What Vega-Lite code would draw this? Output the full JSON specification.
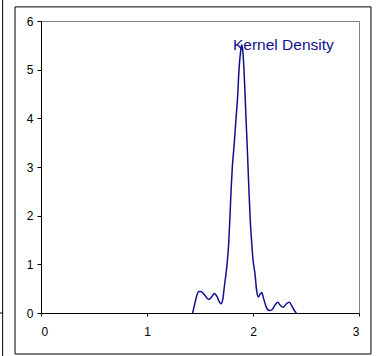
{
  "$schema": "https://vega.github.io/schema/vega-lite/v6.json",
  "width": 318,
  "height": 292,
  "autosize": {"type": "none"},
  "padding": {"left": 41, "top": 21, "right": 20, "bottom": 43},
  "background": "white",
  "config": {
    "view": {"stroke": "#808080", "strokeWidth": 1},
    "font": "Liberation Sans"
  },
  "datasets": {
    "density": [
      {"x": 1.43, "y": 0}, {"x": 1.45, "y": 0.18}, {"x": 1.47, "y": 0.36}, {"x": 1.49, "y": 0.44},
      {"x": 1.51, "y": 0.44}, {"x": 1.54, "y": 0.38}, {"x": 1.58, "y": 0.28}, {"x": 1.61, "y": 0.33},
      {"x": 1.635, "y": 0.40}, {"x": 1.66, "y": 0.34}, {"x": 1.68, "y": 0.24}, {"x": 1.698, "y": 0.19},
      {"x": 1.715, "y": 0.28}, {"x": 1.73, "y": 0.55}, {"x": 1.745, "y": 0.8}, {"x": 1.755, "y": 1.0},
      {"x": 1.77, "y": 1.4}, {"x": 1.783, "y": 2.0}, {"x": 1.795, "y": 2.6}, {"x": 1.805, "y": 3.0},
      {"x": 1.822, "y": 3.45}, {"x": 1.84, "y": 4.0}, {"x": 1.855, "y": 4.45}, {"x": 1.868, "y": 5.0},
      {"x": 1.882, "y": 5.35}, {"x": 1.893, "y": 5.51}, {"x": 1.905, "y": 5.35}, {"x": 1.915, "y": 5.0},
      {"x": 1.925, "y": 4.5}, {"x": 1.934, "y": 4.0}, {"x": 1.944, "y": 3.5}, {"x": 1.953, "y": 3.0},
      {"x": 1.962, "y": 2.5}, {"x": 1.972, "y": 2.0}, {"x": 1.986, "y": 1.5}, {"x": 2.0, "y": 1.1},
      {"x": 2.019, "y": 0.8}, {"x": 2.035, "y": 0.45},
      {"x": 2.05, "y": 0.33}, {"x": 2.065, "y": 0.38}, {"x": 2.082, "y": 0.42}, {"x": 2.10, "y": 0.30},
      {"x": 2.125, "y": 0.12}, {"x": 2.154, "y": 0.05}, {"x": 2.18, "y": 0.07}, {"x": 2.21, "y": 0.17},
      {"x": 2.233, "y": 0.22}, {"x": 2.26, "y": 0.15}, {"x": 2.286, "y": 0.12}, {"x": 2.315, "y": 0.19},
      {"x": 2.343, "y": 0.22}, {"x": 2.37, "y": 0.13}, {"x": 2.39, "y": 0.05}, {"x": 2.41, "y": 0}
    ],
    "label": [{"series": "Kernel Density"}]
  },
  "layer": [
    {
      "data": {"name": "label"},
      "mark": {"type": "rect", "fill": null, "stroke": "#000000", "strokeWidth": 1},
      "encoding": {
        "x": {"datum": -0.245, "type": "quantitative", "scale": {"domain": [0, 3], "nice": false}},
        "x2": {"datum": 3.113},
        "y": {"datum": 6.29, "type": "quantitative", "scale": {"domain": [0, 6], "nice": false}},
        "y2": {"datum": -0.842}
      }
    },
    {
      "data": {"name": "label"},
      "mark": {"type": "rule", "stroke": "#000000", "strokeWidth": 1},
      "encoding": {
        "x": {"datum": -0.362, "type": "quantitative"},
        "y": {"datum": 6.5, "type": "quantitative"},
        "y2": {"datum": -0.9}
      }
    },
    {
      "data": {"name": "label"},
      "mark": {"type": "rule", "stroke": "#000000", "strokeWidth": 1},
      "encoding": {
        "x": {"datum": -0.39, "type": "quantitative"},
        "x2": {"datum": -0.362},
        "y": {"datum": 0, "type": "quantitative"}
      }
    },
    {
      "data": {"name": "density"},
      "mark": {"type": "line", "color": "#10108f", "strokeWidth": 1.5, "interpolate": "monotone"},
      "encoding": {
        "x": {"field": "x", "type": "quantitative",
          "scale": {"domain": [0, 3], "nice": false},
          "axis": {"title": null, "values": [0, 1, 2, 3], "format": "d", "grid": false,
            "domainColor": "#000000", "tickColor": "#000000", "tickSize": 3,
            "labelColor": "#000000", "labelFontSize": 12, "labelPadding": 10, "labelFont": "Liberation Sans"}},
        "y": {"field": "y", "type": "quantitative",
          "scale": {"domain": [0, 6], "nice": false},
          "axis": {"title": null, "values": [0, 1, 2, 3, 4, 5, 6], "format": "d", "grid": false,
            "domainColor": "#000000", "tickColor": "#000000", "tickSize": 4,
            "labelColor": "#000000", "labelFontSize": 12, "labelPadding": 4, "labelFont": "Liberation Sans"}}
      }
    },
    {
      "data": {"name": "label"},
      "mark": {"type": "text", "align": "left", "baseline": "alphabetic",
        "fill": "#10108f", "fontSize": 15.5, "font": "Liberation Sans"},
      "encoding": {
        "text": {"field": "series"},
        "x": {"datum": 1.811, "type": "quantitative"},
        "y": {"datum": 5.41, "type": "quantitative"}
      }
    }
  ]
}
